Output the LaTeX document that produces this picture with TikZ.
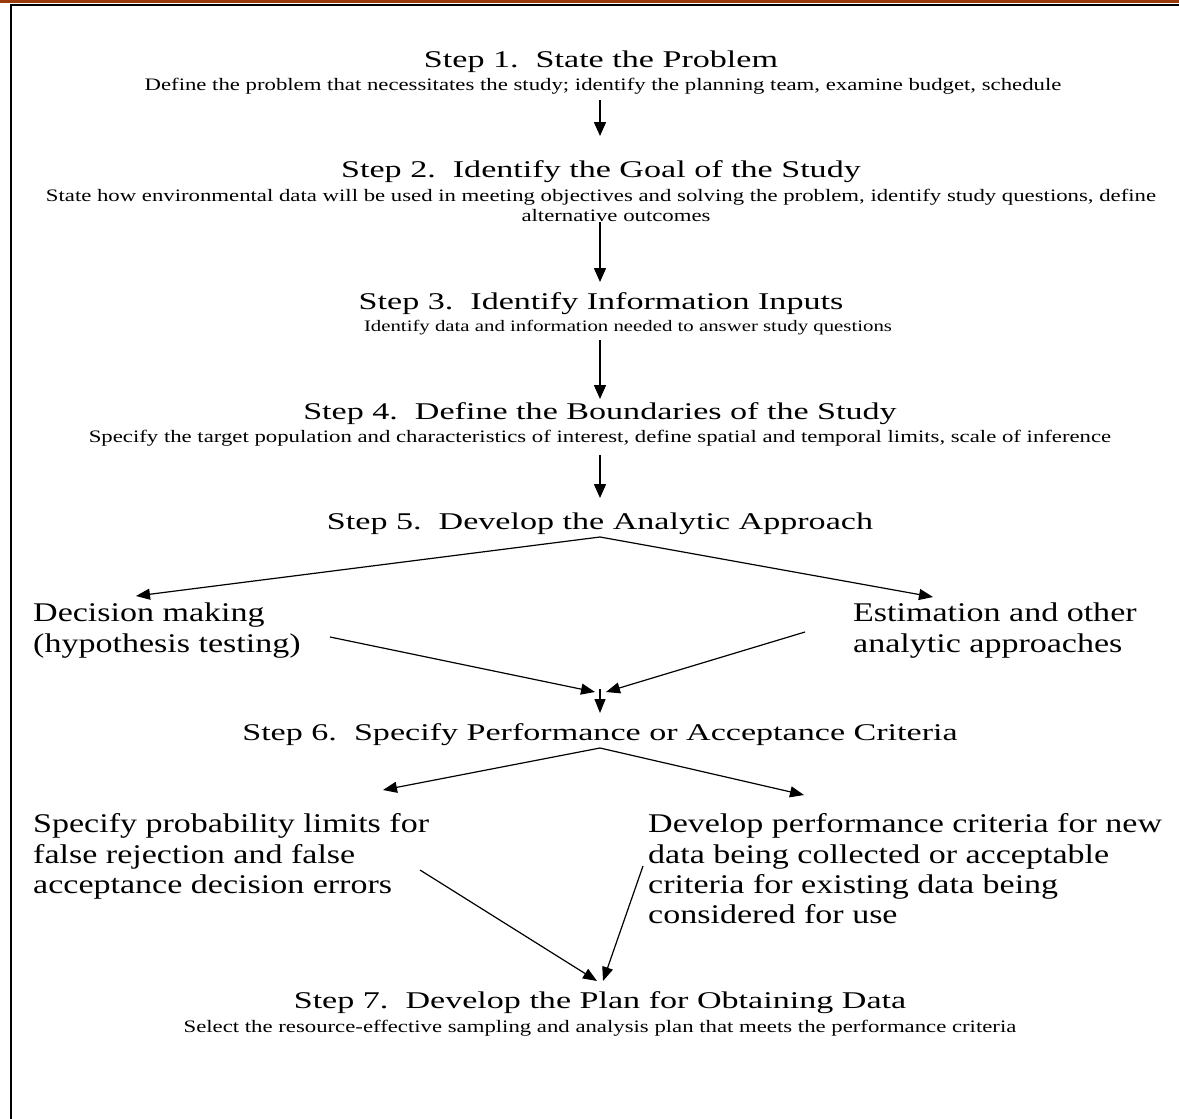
\documentclass[tikz,border=0pt]{standalone}
\usepackage{fontspec}
\setmainfont{Liberation Serif}
\newfontfamily\tfam[FakeStretch=1.42]{Liberation Serif}
\newfontfamily\sfam[FakeStretch=1.3]{Liberation Serif}
\newfontfamily\bfam[FakeStretch=1.26]{Liberation Serif}
\usetikzlibrary{arrows.meta}
\definecolor{brn}{RGB}{153,58,10}
\begin{document}
\begin{tikzpicture}[x=1pt,y=-1pt,
  ttl/.style={font=\tfam\fontsize{24}{28}\selectfont, inner sep=0pt, anchor=base},
  subt/.style={font=\sfam\fontsize{17.5}{20}\selectfont, inner sep=0pt, anchor=base},
  brt/.style={font=\bfam\fontsize{27}{31}\selectfont, inner sep=0pt, anchor=base west},
  arr/.style={-{Triangle[length=14pt,width=12pt]}, line width=1.5pt},
  barr/.style={-{Triangle[length=14pt,width=11pt]}, line width=1.2pt}]
\useasboundingbox (0,0) rectangle (1179,1119);
% frame
\fill[brn] (0,0) rectangle (1179,3);
\draw[line width=1.5pt] (10,5) -- (1179,5);
\draw[line width=2.5pt] (11,5) -- (11,1119);
% steps
\node[ttl] (t1) at (601,67) {Step 1.\ \ State the Problem};
\node[subt] (s1) at (603,90) {Define the problem that necessitates the study; identify the planning team, examine budget, schedule};
\node[ttl] (t2) at (601,177) {Step 2.\ \ Identify the Goal of the Study};
\node[subt] (s2a) at (601,201) {State how environmental data will be used in meeting objectives and solving the problem, identify study questions, define};
\node[subt] (s2b) at (616,221) {alternative outcomes};
\node[ttl] (t3) at (601,309) {Step 3.\ \ Identify Information Inputs};
\node[subt, font=\sfam\fontsize{16}{19}\selectfont] (s3) at (628,331) {Identify data and information needed to answer study questions};
\node[ttl] (t4) at (600,419) {Step 4.\ \ Define the Boundaries of the Study};
\node[subt] (s4) at (600,442) {Specify the target population and characteristics of interest, define spatial and temporal limits, scale of inference};
\node[ttl] (t5) at (600,529) {Step 5.\ \ Develop the Analytic Approach};
\node[brt] (dm1) at (33,621) {Decision making};
\node[brt] (dm2) at (33,652) {(hypothesis testing)};
\node[brt] (es1) at (853,621) {Estimation and other};
\node[brt] (es2) at (853,652) {analytic approaches};
\node[ttl] (t6) at (600,740) {Step 6.\ \ Specify Performance or Acceptance Criteria};
\node[brt] (pl1) at (33,832) {Specify probability limits for};
\node[brt] (pl2) at (33,863) {false rejection and false};
\node[brt] (pl3) at (33,893) {acceptance decision errors};
\node[brt] (pc1) at (648,832) {Develop performance criteria for new};
\node[brt] (pc2) at (648,863) {data being collected or acceptable};
\node[brt] (pc3) at (648,893) {criteria for existing data being};
\node[brt] (pc4) at (648,923) {considered for use};
\node[ttl] (t7) at (600,1008) {Step 7.\ \ Develop the Plan for Obtaining Data};
\node[subt] (s7) at (600,1032) {Select the resource-effective sampling and analysis plan that meets the performance criteria};
% connector points
\coordinate (a1s) at (600,100); \coordinate (a1e) at (600,136);
\coordinate (a2s) at (600,222); \coordinate (a2e) at (600,282);
\coordinate (a3s) at (600,340); \coordinate (a3e) at (600,399);
\coordinate (a4s) at (600,455); \coordinate (a4e) at (600,498);
\coordinate (ap5) at (600,537);
\coordinate (l5) at (136,596); \coordinate (r5) at (933,597);
\coordinate (dmo) at (330,637); \coordinate (eso) at (805,632);
\coordinate (m6l) at (595,692); \coordinate (m6r) at (606,692);
\coordinate (m6s) at (600,689); \coordinate (m6e) at (600,713);
\coordinate (ap6) at (600,748);
\coordinate (l6) at (383,790); \coordinate (r6) at (804,795);
\coordinate (plo) at (420,870); \coordinate (pco) at (643,866);
\coordinate (m7l) at (597,981); \coordinate (m7r) at (603,981);
% connectors
\draw[arr] (a1s) -- (a1e);
\draw[arr] (a2s) -- (a2e);
\draw[arr] (a3s) -- (a3e);
\draw[arr] (a4s) -- (a4e);
\draw[barr] (ap5) -- (l5);
\draw[barr] (ap5) -- (r5);
\draw[barr] (dmo) -- (m6l);
\draw[barr] (eso) -- (m6r);
\draw[barr] (m6s) -- (m6e);
\draw[barr] (ap6) -- (l6);
\draw[barr] (ap6) -- (r6);
\draw[barr] (plo) -- (m7l);
\draw[barr] (pco) -- (m7r);
\end{tikzpicture}
\end{document}
